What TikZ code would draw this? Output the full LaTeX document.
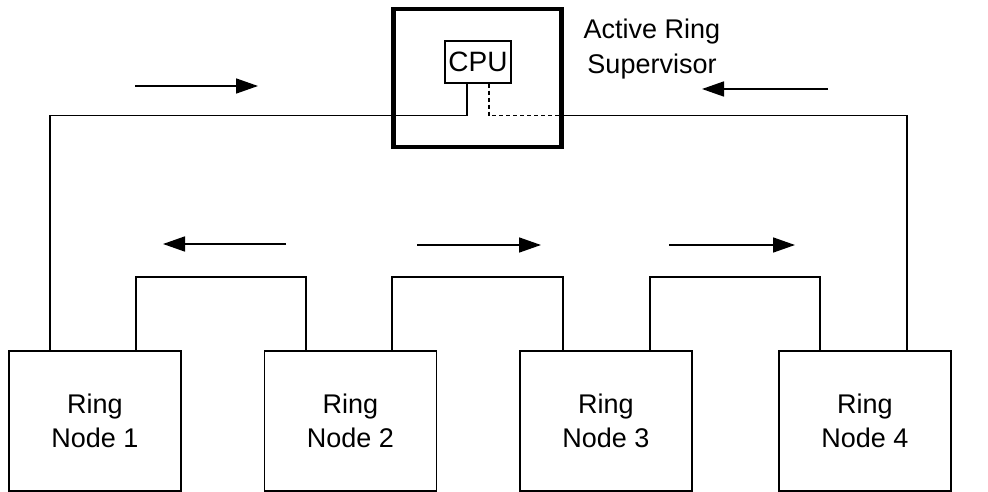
\documentclass[tikz,border=0pt]{standalone}
\usepackage{fontspec}
\setmainfont{Liberation Sans}
\usetikzlibrary{arrows.meta}
\begin{document}
\begin{tikzpicture}[x=1pt,y=-1pt,
  txt/.style={align=center, font=\fontsize{27}{34.5}\selectfont},
  ringbox/.style={txt, draw, line width=1.5pt, minimum width=172pt, minimum height=140pt, inner sep=0pt},
  wire/.style={line width=1.5pt},
  flow/.style={line width=1.6pt, -{Triangle[length=22pt,width=15pt]}},
]
\useasboundingbox (0,0) rectangle (988,492);
% ring nodes
\node[ringbox] (n1) at (95,421) {Ring\\Node 1};
\node[ringbox] (n2) at (350.5,421) {Ring\\Node 2};
\node[ringbox] (n3) at (606,421) {Ring\\Node 3};
\node[ringbox] (n4) at (865,421) {Ring\\Node 4};
% supervisor
\node[draw, line width=4.5pt, minimum width=168pt, minimum height=138pt, inner sep=0pt] (sup) at (477.5,78) {};
\node[draw, line width=1.5pt, minimum width=66pt, minimum height=42pt, inner sep=0pt, font=\fontsize{28}{34}\selectfont] (cpu) at (478,62) {CPU};
\node[txt] (lbl) at (652,49) {Active Ring\\Supervisor};
% main ring
\coordinate (ml) at (50,115.5);
\coordinate (mr) at (907,115.5);
\draw[wire] ([xshift=-11pt]cpu.south) |- (ml) -- (ml |- n1.north);
\draw[wire, dash pattern=on 4pt off 3pt] ([xshift=11pt]cpu.south) |- (sup.east |- ml);
\draw[wire] (sup.east |- ml) -- (mr) -- (mr |- n4.north);
% links between nodes
\coordinate (l1a) at (136,277); \coordinate (l1b) at (306,277);
\coordinate (l2a) at (392,277); \coordinate (l2b) at (563,277);
\coordinate (l3a) at (650,277); \coordinate (l3b) at (820,277);
\draw[wire] (n1.north -| l1a) -- (l1a) -- (l1b) -- (n2.north -| l1b);
\draw[wire] (n2.north -| l2a) -- (l2a) -- (l2b) -- (n3.north -| l2b);
\draw[wire] (n3.north -| l3a) -- (l3a) -- (l3b) -- (n4.north -| l3b);
% direction arrows
\coordinate (a1s) at (135,86);  \coordinate (a1e) at (258,86);
\coordinate (a2s) at (828,89);  \coordinate (a2e) at (702,89);
\coordinate (a3s) at (286,244); \coordinate (a3e) at (163,244);
\coordinate (a4s) at (417,245); \coordinate (a4e) at (541,245);
\coordinate (a5s) at (669,245); \coordinate (a5e) at (795,245);
\draw[flow] (a1s) -- (a1e);
\draw[flow] (a2s) -- (a2e);
\draw[flow] (a3s) -- (a3e);
\draw[flow] (a4s) -- (a4e);
\draw[flow] (a5s) -- (a5e);
\end{tikzpicture}
\end{document}
